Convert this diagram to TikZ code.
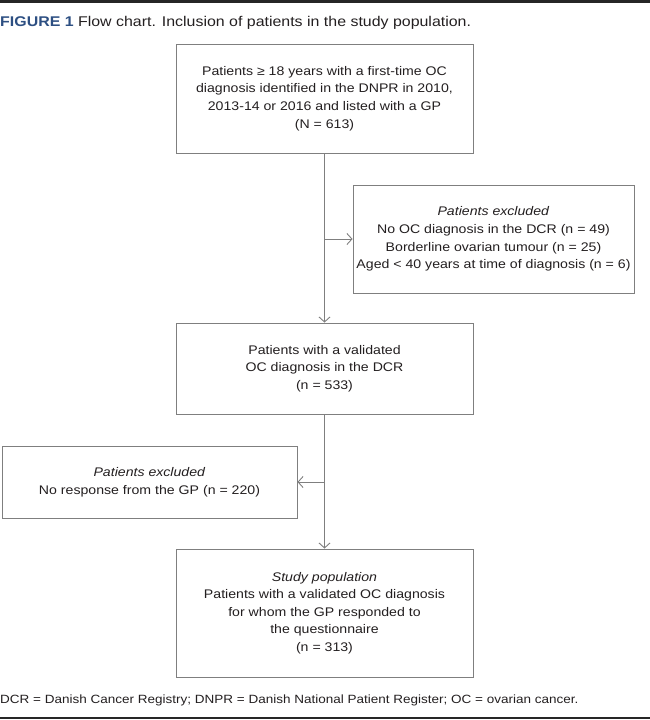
\documentclass[tikz,border=0pt]{standalone}
\usepackage{fontspec}
\setmainfont[FakeStretch=1.13]{Liberation Sans}
\usetikzlibrary{arrows.meta}
\definecolor{txt}{HTML}{231F20}
\definecolor{ln}{HTML}{7F7F7F}
\definecolor{figblue}{HTML}{2D4F82}
\tikzset{
  box/.style={draw=ln, line width=0.9pt, rectangle, align=center, text=txt,
    font=\fontsize{12.5}{17.6}\selectfont, inner sep=0pt},
  conn/.style={draw=ln, line width=0.9pt},
  arr/.style={conn, -{Straight Barb[length=5pt,width=11pt]}},
  rule/.style={draw=black!85, line width=2.6pt}
}
\begin{document}
\begin{tikzpicture}[x=1pt,y=-1pt]
\useasboundingbox (0,0) rectangle (650,720);
\coordinate (rt1) at (0,1.5);
\coordinate (rt2) at (650,1.5);
\coordinate (rb1) at (0,718);
\coordinate (rb2) at (650,718);
\draw[rule] (rt1) -- (rt2);
\draw[rule] (rb1) -- (rb2);
\node[anchor=west, text=txt, font=\fontsize{14.1}{16}\selectfont, inner sep=0pt] (title) at (0,23)
  {\textcolor{figblue}{\textbf{FIGURE 1}} Flow chart. Inclusion of patients in the study population.};
\node[box, minimum width=297pt, minimum height=109pt] (b1) at (324.5,98.5)
  {Patients ≥ 18 years with a first-time OC\\diagnosis identified in the DNPR in 2010,\\2013-14 or 2016 and listed with a GP\\(N = 613)};
\node[box, minimum width=281pt, minimum height=108pt] (e1) at (493.5,239)
  {\textit{Patients excluded}\\No OC diagnosis in the DCR (n = 49)\\Borderline ovarian tumour (n = 25)\\Aged < 40 years at time of diagnosis (n = 6)};
\node[box, minimum width=297pt, minimum height=91pt] (b2) at (324.5,368.5)
  {Patients with a validated\\OC diagnosis in the DCR\\(n = 533)};
\node[box, minimum width=295pt, minimum height=72pt] (e2) at (149.5,482)
  {\textit{Patients excluded}\\No response from the GP (n = 220)};
\node[box, minimum width=297pt, minimum height=128pt] (b3) at (324.5,613)
  {\textit{Study population}\\Patients with a validated OC diagnosis\\for whom the GP responded to\\the questionnaire\\(n = 313)};
\draw[arr] (b1.south) -- (b2.north);
\draw[arr] (b1.south |- e1.west) -- (e1.west);
\draw[arr] (b2.south) -- (b3.north);
\draw[arr] (b2.south |- e2.east) -- (e2.east);
\node[anchor=west, text=txt, font=\fontsize{11.95}{14}\selectfont, inner sep=0pt] (foot) at (0,700)
  {DCR = Danish Cancer Registry; DNPR = Danish National Patient Register; OC = ovarian cancer.};
\end{tikzpicture}
\end{document}
